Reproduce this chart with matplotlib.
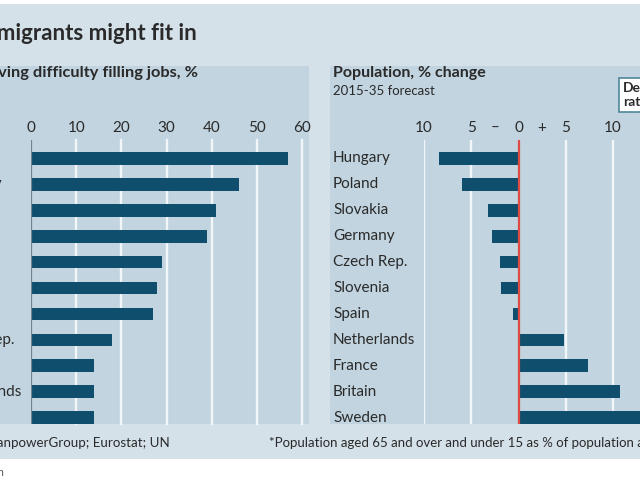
import numpy as np
import matplotlib
matplotlib.use("Agg")
import matplotlib.pyplot as plt
from matplotlib.patches import Rectangle
from matplotlib.transforms import blended_transform_factory

plt.rcParams['font.family'] = ['Lato', 'DejaVu Sans']

# data
jobs_countries = ["Greece", "Germany", "Poland", "Sweden", "France", "Spain",
                  "Britain", "Czech Rep.", "Italy", "Netherlands", "Ireland"]
jobs_pct = [57, 46, 41, 39, 29, 28, 27, 18, 14, 14, 14]
jobs_ticks = [0, 10, 20, 30, 40, 50, 60]

pop_countries = ["Hungary", "Poland", "Slovakia", "Germany", "Czech Rep.", "Slovenia",
                 "Spain", "Netherlands", "France", "Britain", "Sweden"]
pop_change = [-8.4, -6.0, -3.2, -2.8, -2.0, -1.8, -0.6, 4.8, 7.4, 10.7, 15.0]
pop_ticks = [-10, -5, -2.5, 0, 2.5, 5, 10]
pop_ticklabels = ["10", "5", "\u2013", "0", "+", "5", "10"]

W, H = 640, 480
outer = '#d4e1e9'
panel = '#c1d4df'
bar_col = '#0f4e6c'
grid_col = '#f2f6f8'
txt = '#2a2a2a'

fig = plt.figure(figsize=(6.4, 4.8), dpi=100)
fig.patch.set_facecolor('white')

def fx(x):
    return x / W

def fy(y):
    return 1 - y / H

def rect(x0, y0, x1, y1, color):
    fig.patches.append(Rectangle((fx(x0), fy(y1)), fx(x1) - fx(x0), fy(y0) - fy(y1),
                                 transform=fig.transFigure, facecolor=color,
                                 edgecolor='none', zorder=-10))

# backgrounds
rect(-10, 4, 650, 459, outer)
rect(-70, 66, 309, 424, panel)
rect(330, 66, 650, 424, panel)

# titles
fig.text(fx(197), fy(34), "Where migrants might fit in", ha='right', va='center',
         fontsize=16, fontweight='bold', color=txt)
fig.text(fx(198), fy(73), "Employers having difficulty filling jobs, %", ha='right',
         va='center', fontsize=11.8, fontweight='bold', color=txt)
fig.text(fx(333), fy(73), "Population, % change", ha='left', va='center',
         fontsize=11.5, fontweight='bold', color=txt)
fig.text(fx(333), fy(91), "2015-35 forecast", ha='left', va='center',
         fontsize=9.5, color=txt)
fig.text(fx(623), fy(95), "Dependency\nratio*", ha='left', va='center',
         fontsize=10, fontweight='bold', color=txt, linespacing=1.15,
         bbox=dict(boxstyle='square,pad=0.3', facecolor='white',
                   edgecolor='#4f8799', linewidth=1.2))

# footer
fig.text(fx(170), fy(443), "Sources: ManpowerGroup; Eurostat; UN", ha='right',
         va='center', fontsize=9.6, color=txt)
fig.text(fx(269), fy(443), "*Population aged 65 and over and under 15 as % of population aged 15-64",
         ha='left', va='center', fontsize=9.5, color=txt)
fig.text(fx(4), fy(472), "Economist.com", ha='right', va='center', fontsize=8, color='#555555')

rows = np.arange(len(jobs_countries))

# left panel
ax1 = fig.add_axes([fx(31), fy(424), fx(302) - fx(31), (424 - 140) / H])
ax1.set_xlim(0, 60)
ax1.set_ylim(10.245, -0.71)
ax1.axis('off')
for t in jobs_ticks[1:]:
    ax1.axvline(t, color=grid_col, lw=1.7, zorder=1, clip_on=False)
ax1.barh(rows, jobs_pct, height=0.49, color=bar_col, zorder=2)
ax1.axvline(0, color='#76828a', lw=1.6, zorder=3)
tr1 = blended_transform_factory(ax1.transData, fig.transFigure)
for t in jobs_ticks:
    ax1.text(t, fy(128), str(t), transform=tr1, ha='center', va='center',
             fontsize=11, color=txt)
trl1 = blended_transform_factory(fig.transFigure, ax1.transData)
for r, c in zip(rows, jobs_countries):
    ax1.text(fx(-60), r, c, transform=trl1, ha='left', va='center',
             fontsize=11, color=txt)

# right panel
ax2 = fig.add_axes([fx(424), fy(424), fx(700) - fx(424), (424 - 140) / H])
ax2.set_xlim(-10, -10 + 276 / 9.45)
ax2.set_ylim(10.245, -0.71)
ax2.axis('off')
for t in [-10, -5, 5, 10, 15]:
    ax2.axvline(t, color=grid_col, lw=1.7, zorder=1)
ax2.barh(rows, pop_change, height=0.49, color=bar_col, zorder=2)
ax2.axvline(0, color='#e04a44', lw=1.6, zorder=3)
tr2 = blended_transform_factory(ax2.transData, fig.transFigure)
for t, lab in zip(pop_ticks, pop_ticklabels):
    ax2.text(t, fy(128), lab, transform=tr2, ha='center', va='center',
             fontsize=11, color=txt)
trl2 = blended_transform_factory(fig.transFigure, ax2.transData)
for r, c in zip(rows, pop_countries):
    ax2.text(fx(333), r, c, transform=trl2, ha='left', va='center',
             fontsize=11, color=txt)

fig.savefig('out.png', dpi=100)
